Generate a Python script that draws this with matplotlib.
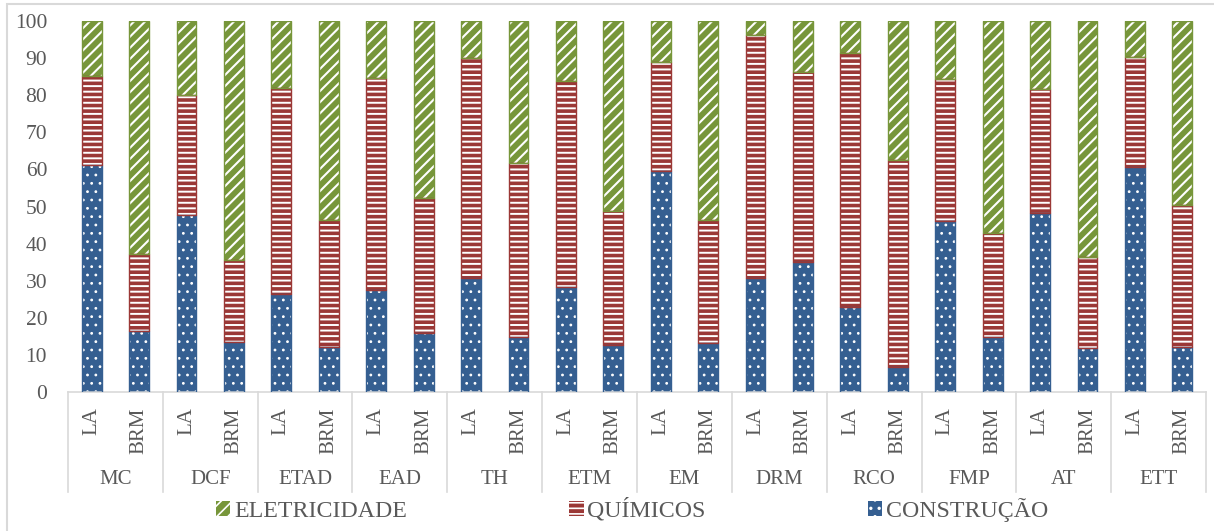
import matplotlib
matplotlib.use("Agg")
import matplotlib.pyplot as plt
from matplotlib.patches import Patch, Rectangle
import matplotlib.transforms as mtransforms
import numpy as np

plt.rcParams['font.family'] = ['Liberation Serif', 'DejaVu Serif']

groups = ["MC", "DCF", "ETAD", "EAD", "TH", "ETM", "EM", "DRM", "RCO", "FMP", "AT", "ETT"]
subs = ["LA", "BRM"]

construcao = [61.2, 16.4, 47.7, 13.5, 26.3, 12.1, 27.6, 15.9, 30.8, 14.7, 28.2, 12.6,
              59.5, 13.2, 30.8, 35.1, 22.8, 6.7, 46.1, 14.8, 48.3, 11.9, 60.7, 12.0]
quimicos = [24.0, 20.9, 32.3, 22.0, 55.7, 34.2, 57.1, 36.3, 59.3, 46.9, 55.6, 36.2,
            29.5, 33.1, 65.4, 51.2, 68.5, 55.8, 38.2, 28.1, 33.3, 24.4, 29.7, 38.4]
eletricidade = [14.8, 62.7, 20.0, 64.5, 18.0, 53.7, 15.3, 47.8, 9.9, 38.4, 16.2, 51.2,
                11.0, 53.7, 3.8, 13.7, 8.7, 37.5, 15.7, 57.1, 18.4, 63.7, 9.6, 49.6]

series_names = ["CONSTRUÇÃO", "QUÍMICOS", "ELETRICIDADE"]
colors = ["#355F91", "#9B3836", "#77963A"]
hatches = ["..", "---", "///"]
hatch_lw = [0.8, 1.4, 1.5]

TXT = "#595959"
GRID = "#D9D9D9"

W, H = 1214, 531
fig = plt.figure(figsize=(W / 100, H / 100), dpi=100)
ax = fig.add_axes([68 / W, (H - 392) / H, (1206 - 68) / W, (392 - 21) / H])

n = len(construcao)
x = np.arange(n)
bar_w = 0.42
bottom = np.zeros(n)
for vals, c, h, hlw in zip([construcao, quimicos, eletricidade], colors, hatches, hatch_lw):
    vals = np.array(vals)
    with plt.rc_context({'hatch.linewidth': hlw, 'hatch.color': 'white'}):
        ax.bar(x, vals, bar_w, bottom=bottom, color=c, edgecolor='white',
               linewidth=0, hatch=h, zorder=2)
    ax.bar(x, vals, bar_w, bottom=bottom, fill=False, edgecolor=c,
           linewidth=1.0, zorder=3)
    bottom += vals

ax.set_xlim(-0.5, n - 0.5)
ax.set_ylim(0, 100)
ax.set_yticks(np.arange(0, 101, 10))
ax.tick_params(axis='y', length=0, pad=15, labelsize=15.5, labelcolor=TXT)
ax.set_xticks(x)
ax.set_xticklabels(subs * len(groups), rotation=90, va='top', ha='center')
ax.tick_params(axis='x', length=0, pad=11, labelsize=15, labelcolor=TXT)
for s in ['top', 'right', 'left']:
    ax.spines[s].set_visible(False)
ax.spines['bottom'].set_color(GRID)
ax.spines['bottom'].set_linewidth(1.2)

# category box separators and group names
trans = mtransforms.blended_transform_factory(ax.transData, ax.transAxes)
sep_depth = -(492 - 392) / (392 - 21)
for b in np.arange(-0.5, n, 2):
    ax.plot([b, b], [0, sep_depth], color=GRID, lw=1.2, transform=trans,
            clip_on=False, zorder=1)
for g, name in enumerate(groups):
    ax.text(2 * g + 0.5, -(479 - 392) / (392 - 21), name, transform=trans,
            ha='center', va='center', fontsize=15, color=TXT)

handles = [Patch(facecolor=colors[i], edgecolor='white', linewidth=0, hatch=hatches[i])
           for i in [2, 1, 0]]
labels = [series_names[i] for i in [2, 1, 0]]
with plt.rc_context({'hatch.color': 'white', 'hatch.linewidth': 1.2}):
    leg = fig.legend(handles, labels, loc='center left',
                     bbox_to_anchor=(216 / W, (H - 510) / H), ncol=3, frameon=False,
                     fontsize=17.2, handlelength=0.6, handleheight=0.6,
                     handletextpad=0.15, columnspacing=6.8, borderpad=0,
                     borderaxespad=0)
for t in leg.get_texts():
    t.set_color(TXT)

# outer chart frame
fig.patches.append(Rectangle((7 / W, -0.1), 1.2, (H - 4) / H + 0.1,
                             transform=fig.transFigure, fill=False,
                             edgecolor=GRID, lw=1.5))

fig.savefig("out.png", dpi=100)
